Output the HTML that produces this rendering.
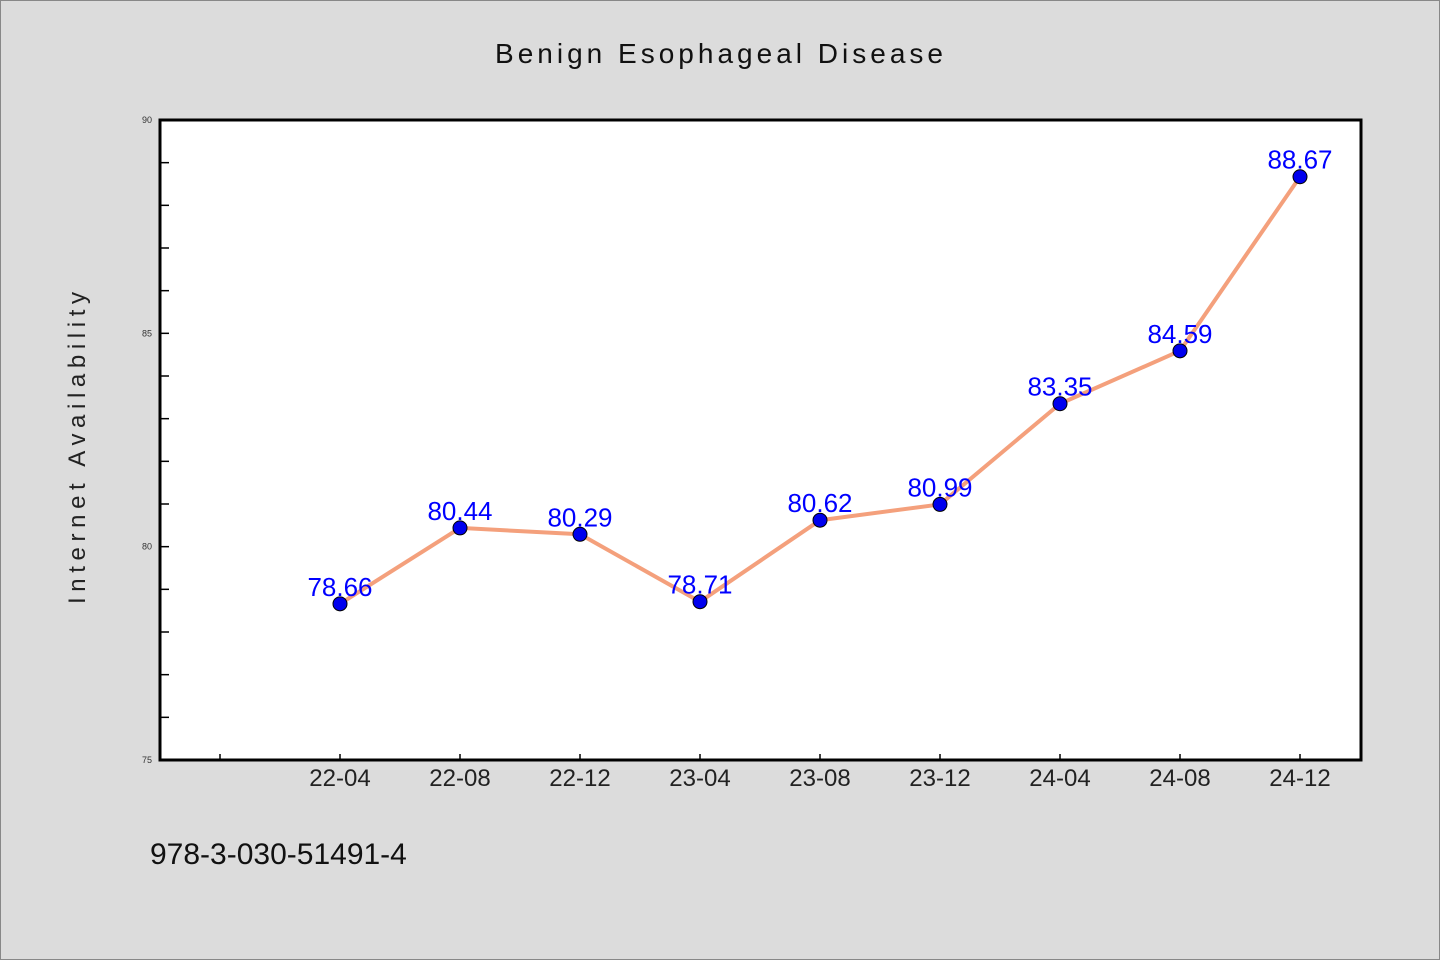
<!DOCTYPE html>
<html><head><meta charset="utf-8"><style>
body{margin:0;background:#dcdcdc}
svg{display:block;font-family:"WenQuanYi Zen Hei","Liberation Sans",sans-serif}
</style></head><body>
<svg width="1440" height="960">
<rect x="0.5" y="0.5" width="1439" height="959" fill="#dcdcdc" stroke="#888"/>
<text x="719" y="63" text-anchor="middle" font-size="28" textLength="448" fill="#111">Benign Esophageal Disease</text>
<rect x="160" y="120" width="1201" height="640" fill="#fff"/>
<g id="axes"></g>
<g id="marks"></g>
<rect x="160" y="120" width="1201" height="640" fill="none" stroke="#000" stroke-width="3"/>
<text transform="translate(85,448) rotate(-90)" text-anchor="middle" font-size="24" textLength="312" fill="#222">Internet Availability</text>
<text x="150" y="864" font-size="30" fill="#111">978-3-030-51491-4</text>
</svg>
<script>
const categories=["22-04","22-08","22-12","23-04","23-08","23-12","24-04","24-08","24-12"];
const values=[78.66,80.44,80.29,78.71,80.62,80.99,83.35,84.59,88.67];
const yTickLabels=[75,80,85,90];
const NS="http://www.w3.org/2000/svg";
const yMin=75,yMax=90;
function ys(v){return 760-(v-yMin)/(yMax-yMin)*640;}
function xs(i){return 340+i*120;}
function mk(t,a,p){const e=document.createElementNS(NS,t);for(const k in a)e.setAttribute(k,a[k]);p.appendChild(e);return e;}
const ax=document.getElementById('axes'),mg=document.getElementById('marks');
for(let v=yMin;v<=yMax;v++){
 const t=mk('line',{x1:160,x2:169,y1:ys(v),y2:ys(v),stroke:'#000','stroke-width':1.5},ax);
 
 
}
yTickLabels.forEach(v=>{
 const t=mk('text',{x:152,y:ys(v)+3,'text-anchor':'end','font-size':9,fill:'#333'},ax);
 t.textContent=v;
 
 
});
for(let i=-1;i<categories.length;i++){
 const t=mk('line',{x1:xs(i),x2:xs(i),y1:760,y2:754,stroke:'#000','stroke-width':1.5},ax);
 
 
}
categories.forEach((c,i)=>{
 const t=mk('text',{x:xs(i),y:786,'text-anchor':'middle','font-size':24,fill:'#222'},ax);
 t.textContent=c;
 
 
});
const line=mk('polyline',{points:values.map((v,i)=>xs(i)+','+ys(v)).join(' '),fill:'none',stroke:'#f4a07c','stroke-width':4,'stroke-linejoin':'round'},mg);


values.forEach((v,i)=>{
 const c=mk('circle',{cx:xs(i),cy:ys(v),r:7,fill:'#0000ee',stroke:'#000','stroke-width':1},mg);
 
 
 const t=mk('text',{x:xs(i),y:ys(v)-8,'text-anchor':'middle','font-size':26,fill:'#0000ff'},mg);
 t.textContent=v.toFixed(2);
 
 
});
</script>
</body></html>
